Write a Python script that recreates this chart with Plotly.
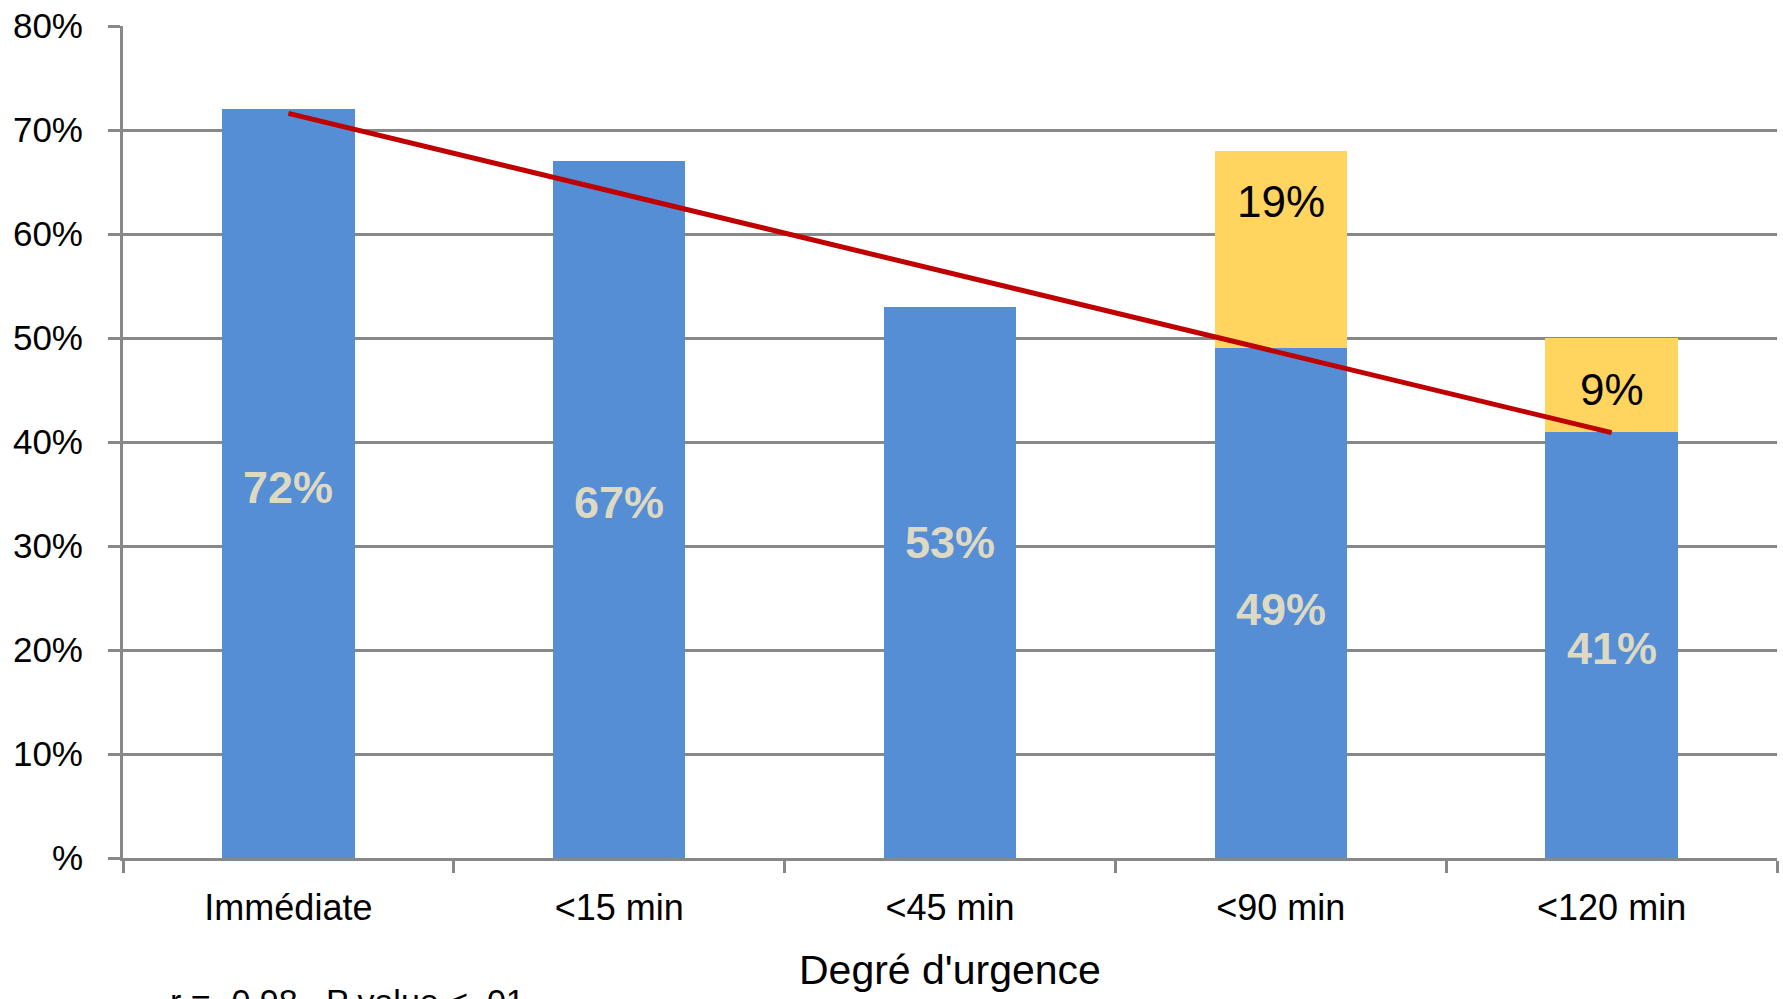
import plotly.graph_objects as go

# Degree of urgency categories and shares (%)
categories = ["Immédiate", "<15 min", "<45 min", "<90 min", "<120 min"]
main_share = [72, 67, 53, 49, 41]
extra_share = [None, None, None, 19, 9]

# Linear trend drawn across the main series (start / end levels, %)
trend_x = ["Immédiate", "<120 min"]
trend_y = [71.6, 40.9]

y_ticks = [0, 10, 20, 30, 40, 50, 60, 70, 80]
y_tick_text = ["%", "10%", "20%", "30%", "40%", "50%", "60%", "70%", "80%"]

stats_text = "r = -0.98 , P value < .01"
x_title = "Degré d'urgence"

FONT = "Liberation Sans, Arial, sans-serif"
BLUE = "#558ED5"
YELLOW = "#FFD55F"
GRID = "#888888"
LABEL_LIGHT = "#DDD9C3"

fig = go.Figure()

fig.add_trace(go.Bar(
    x=categories, y=main_share, marker=dict(color=BLUE, line=dict(width=0)),
    hoverinfo="skip", showlegend=False,
))
fig.add_trace(go.Bar(
    x=categories, y=extra_share, marker=dict(color=YELLOW, line=dict(width=0)),
    hoverinfo="skip", showlegend=False,
))
fig.add_trace(go.Scatter(
    x=trend_x, y=trend_y, mode="lines",
    line=dict(color="#C00000", width=5),
    hoverinfo="skip", showlegend=False,
))

annotations = []
# vertical nudges (px) for the labels inside the blue bars
label_lift_px = [-4, 7, 40, -6, -4]
for cat, v, lift in zip(categories, main_share, label_lift_px):
    annotations.append(dict(
        x=cat, y=v / 2, xref="x", yref="y", text=f"<b>{v}%</b>",
        showarrow=False, yshift=lift, yanchor="middle",
        font=dict(family=FONT, size=45, color=LABEL_LIGHT),
    ))
for cat, base, v in zip(categories, main_share, extra_share):
    if v is None:
        continue
    annotations.append(dict(
        x=cat, y=base + v, xref="x", yref="y", text=f"{v}%",
        showarrow=False, yshift=-51, yanchor="middle",
        font=dict(family=FONT, size=44, color="#000000"),
    ))
annotations.append(dict(
    x=0.5, y=-0.1346, xref="paper", yref="paper", text=x_title,
    showarrow=False, xanchor="center", yanchor="middle",
    font=dict(family=FONT, size=41, color="#000000"),
))
annotations.append(dict(
    x=0.027, y=-0.1466, xref="paper", yref="paper", text=stats_text,
    showarrow=False, xanchor="left", yanchor="top",
    font=dict(family=FONT, size=34, color="#000000"),
))

fig.update_layout(
    width=1783, height=999,
    margin=dict(l=123, r=6, t=26, b=141),
    paper_bgcolor="white", plot_bgcolor="white",
    barmode="stack", bargap=0.6,
    font=dict(family=FONT, color="#000000"),
    annotations=annotations,
    xaxis=dict(
        type="category", showgrid=False, automargin=False,
        showline=True, linecolor=GRID, linewidth=3,
        ticks="outside", tickson="boundaries", ticklen=12, tickwidth=3, tickcolor=GRID,
        tickfont=dict(family=FONT, size=36, color="#000000"),
        ticklabelstandoff=16,
        range=[-0.5, 4.5],
    ),
    yaxis=dict(
        range=[0, 80], tickvals=y_ticks, ticktext=y_tick_text, automargin=False,
        showgrid=True, gridcolor=GRID, gridwidth=3,
        showline=True, linecolor=GRID, linewidth=3,
        ticks="outside", ticklen=12, tickwidth=3, tickcolor=GRID,
        tickfont=dict(family=FONT, size=35, color="#000000"),
        ticklabelstandoff=18, zeroline=False,
    ),
)

fig.write_html("out.html")
